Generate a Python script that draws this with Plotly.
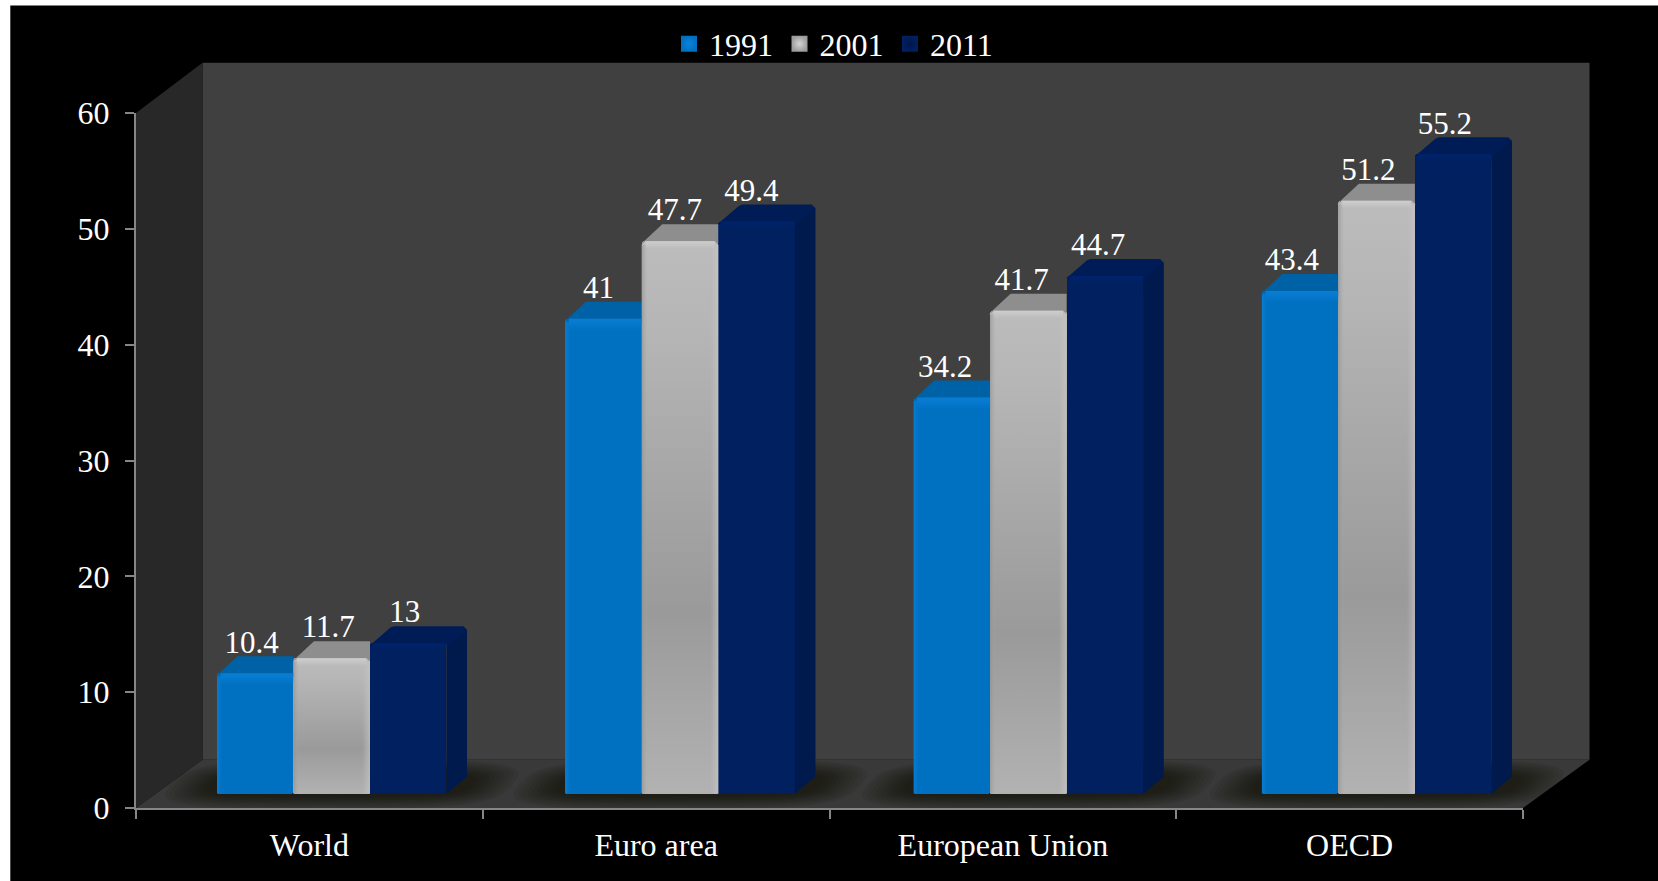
import math
import plotly.graph_objects as go

categories = ["World", "Euro area", "European Union", "OECD"]
years = ["1991", "2001", "2011"]
v1991 = [10.4, 41, 34.2, 43.4]
v2001 = [11.7, 47.7, 41.7, 51.2]
v2011 = [13, 49.4, 44.7, 55.2]
series = [v1991, v2001, v2011]

W, H = 1658, 881
L, R, T, B = 135.7, 1522.7, 112.7, 808.3
PXU = (B - T) / 60.0          # px per value unit
PXC = (R - L) / 4.0           # px per category
ux = lambda px: px / PXC
uy = lambda px: px / PXU
# paper fractions of the plot area, from pixels or from axis units
pxp = lambda px: (px - L) / (R - L)
pyp = lambda py: (B - py) / (B - T)
xp = lambda x: (x + 0.5) / 4.0
yp = lambda y: y / 60.0

BASE = uy(14.3)               # bar foot sits behind the front edge of the floor
DX, DY = ux(20.5), uy(17)     # bar depth
BW = 76.5 / PXC
GROUP_SHIFT = ux(22.35)
SPREAD = 348.3 / PXC
WALL_DX, WALL_DY, WALL_TOP = ux(66.5), uy(48.3), uy(50.4)
CH_X, CH_Y = ux(3.5), uy(3.5)  # soft corner size

front = ["#0070c0", "#a6a6a6", "#002060"]
topc = ["#0062a6", "#8e8e8e", "#001c57"]
sidec = ["#005a9a", "#8a8a8a", "#001a4e"]


def left(c, i):
    return c * SPREAD + GROUP_SHIFT - 1.5 * BW + i * BW


def poly(pts):
    return "M" + "L".join(f"{x:.5f},{y:.5f}" for x, y in pts) + "Z"


def wall(pts):
    return dict(type="path", xref="paper", yref="paper", layer="below", line_width=0,
                path=poly([(xp(x), yp(y)) for x, y in pts]))


x_a, x_b = -0.5, 3.5
shapes = [
    # black panel on the white page
    dict(type="rect", xref="paper", yref="paper", x0=pxp(10), x1=pxp(W + 5), y0=pyp(H + 5), y1=pyp(5),
         fillcolor="#000000", line_width=0, layer="below"),
    dict(fillcolor="#404040", **wall([(x_a + WALL_DX, WALL_DY), (x_b + WALL_DX, WALL_DY),
                                      (x_b + WALL_DX, 60 + WALL_TOP), (x_a + WALL_DX, 60 + WALL_TOP)])),
    dict(fillcolor="#282828", **wall([(x_a, 0), (x_a + WALL_DX, WALL_DY), (x_a + WALL_DX, 60 + WALL_TOP), (x_a, 60)])),
    dict(fillcolor="#393939", **wall([(x_a, 0), (x_a + WALL_DX, WALL_DY), (x_b + WALL_DX, WALL_DY), (x_b, 0)])),
]
# soft shadows on the floor: stacked translucent rounded blobs, sheared along the floor
LAYERS = 10
SHEAR = WALL_DX / WALL_DY
for c in range(4):
    x0 = left(c, 0)
    x1 = left(c, 3) + DX
    cx = (x0 + x1) / 2
    cy = BASE + DY * 0.55
    for k in range(LAYERS):
        f = 1 - k / LAYERS
        a = (x1 - x0) / 2 + ux(2 + 44 * f)
        b = uy(11 + 13 * f)
        pts = []
        for n in range(32):
            t = 2 * math.pi * n / 32
            ct, st = math.cos(t), math.sin(t)
            py = b * math.copysign(abs(st) ** 0.6, st)
            pts.append((cx + a * math.copysign(abs(ct) ** 0.45, ct) + py * SHEAR * 0.6, cy + py))
        shapes.append(dict(fillcolor="rgba(14,8,5,0.075)", **wall(pts)))

fig = go.Figure()
# front faces: real bars
for i, vals in enumerate(series):
    fig.add_trace(go.Bar(x=categories, y=vals, base=BASE, width=BW,
                         offset=[left(c, i) - c for c in range(4)],
                         marker=dict(color=front[i], line_width=0, cornerradius=3),
                         showlegend=False, xaxis="x", yaxis="y", hoverinfo="skip"))


def fill(xs, ys, color=None, grad=None):
    kw = dict(x=xs, y=ys, mode="lines", line=dict(width=0), fill="toself", showlegend=False,
              hoverinfo="skip", xaxis="x2", yaxis="y")
    if grad:
        kw["fillgradient"] = grad
    else:
        kw["fillcolor"] = color
    fig.add_trace(go.Scatter(**kw))


grey_grad = dict(type="vertical", colorscale=[[0, "#b2b2b2"], [0.33, "#9a9a9a"], [0.85, "#b6b6b6"], [1, "#bcbcbc"]])


def vband(x0, x1, y0, y1, c0, c1):
    fill([x0, x1, x1, x0], [y0, y0, y1, y1],
         grad=dict(type="vertical", colorscale=[[0, c0], [1, c1]]))


def hband(x0, x1, y0, y1, c0, c1):
    fill([x0, x1, x1, x0], [y0, y0, y1, y1],
         grad=dict(type="horizontal", colorscale=[[0, c0], [1, c1]]))


for c in range(4):
    for i, vals in enumerate(series):
        v = vals[c]
        x1 = left(c, i)
        x2 = x1 + BW
        top = BASE + v
        bk = top + DY
        # top and side faces, cut where the next bar stands in front
        if i < 2:
            xe = left(c, i + 1)
            fill([x1, xe, xe, x1 + DX], [top - uy(2), top - uy(2), bk, bk], color=topc[i])
        else:
            fill([x1, x2, x2, x2 + DX, x2 + DX, x2 + DX - CH_X, x1 + DX + CH_X, x1 + DX],
                 [top - uy(2), top - uy(2), top, BASE + DY, bk - CH_Y, bk, bk, bk - CH_Y * 0.4], color=topc[i])
            fill([x2, x2 + DX, x2 + DX, x2], [BASE, BASE + DY, bk - CH_Y, top - uy(3)], color=sidec[i])
    # grey face gradient and bevels
    g0, g1 = left(c, 1), left(c, 2)
    gt = BASE + series[1][c]
    fill([g0, g1, g1, g1 - CH_X, g0 + CH_X, g0], [BASE, BASE, gt - CH_Y, gt, gt, gt - CH_Y], grad=grey_grad)
    hband(g0, g0 + ux(6), BASE, gt - CH_Y, "rgba(140,140,140,.6)", "rgba(170,170,170,0)")
    hband(g1 - ux(8), g1, BASE, gt - CH_Y, "rgba(195,195,195,0)", "rgba(200,200,200,.6)")
    vband(g0 + CH_X, g1 - CH_X, gt - uy(8), gt, "rgba(205,205,205,0)", "rgba(208,208,208,.9)")
    # highlight along the top and left of the blue face, and a lit rim on the navy face
    b0 = left(c, 0)
    bt = BASE + series[0][c]
    vband(b0 + CH_X, b0 + BW, bt - uy(12), bt, "rgba(10,128,216,0)", "rgba(10,128,216,.95)")
    hband(b0, b0 + ux(5), BASE, bt - CH_Y, "rgba(10,128,216,.8)", "rgba(10,128,216,0)")
    n0 = left(c, 2)
    nt = BASE + series[2][c]
    vband(n0 + CH_X, n0 + BW, nt - uy(7), nt, "rgba(0,36,110,0)", "rgba(0,36,110,.9)")

# value labels
for i, vals in enumerate(series):
    fig.add_trace(go.Scatter(x=[c + GROUP_SHIFT - 1.5 * BW + (i + 0.5) * BW - ux(3.5) for c in range(4)],
                             y=[BASE + v + uy(13) for v in vals], mode="text",
                             text=[f"{v:g}" for v in vals], textposition="top center",
                             textfont=dict(family="Liberation Serif", size=31, color="#ffffff"),
                             showlegend=False, xaxis="x2", yaxis="y", hoverinfo="skip", cliponaxis=False))

# legend swatches
legend_cols = [("#0070c0", "#0a84dc"), ("#9c9c9c", "#d4d4d4"), ("#002060", "#00154a")]
legend_size = [17, 21, 17]
for i, y in enumerate(years):
    fig.add_trace(go.Scatter(x=[None], y=[None], name=y, mode="markers", xaxis="x2", yaxis="y",
                             marker=dict(symbol="square", size=legend_size[i], color=legend_cols[i][0], line_width=0,
                                         gradient=dict(type="radial", color=legend_cols[i][1]))))

tick = dict(ticks="outside", ticklen=9, tickwidth=2, tickcolor="#868686",
            showline=True, linewidth=2, linecolor="#868686", showgrid=False, zeroline=False,
            tickfont=dict(family="Liberation Serif", size=32, color="#ffffff"))
fig.update_layout(
    width=W, height=H, paper_bgcolor="#ffffff", plot_bgcolor="rgba(0,0,0,0)",
    margin=dict(l=L, r=W - R, t=T, b=H - B, autoexpand=False),
    shapes=shapes, bargap=0, barmode="overlay", showlegend=True,
    legend=dict(orientation="h", x=835 / W, xref="container", xanchor="center", y=1 - 44 / H, yref="container", yanchor="middle",
                bgcolor="rgba(0,0,0,0)", font=dict(family="Liberation Serif", size=32, color="#ffffff"),
                itemsizing="trace", entrywidth=65.5, entrywidthmode="pixels"),
    xaxis=dict(type="category", categoryorder="array", categoryarray=categories, range=[-0.5, 3.5],
               tickson="boundaries", ticklabelstandoff=8, **tick),
    xaxis2=dict(overlaying="x", range=[-0.5, 3.5], visible=False, type="linear"),
    yaxis=dict(range=[0, 60], tickvals=[0, 10, 20, 30, 40, 50, 60], ticklabelstandoff=9, **tick),
)
fig.write_html("out.html", config=dict(displayModeBar=False),
               post_script="document.body.style.margin='0';document.documentElement.style.overflow='hidden';")
